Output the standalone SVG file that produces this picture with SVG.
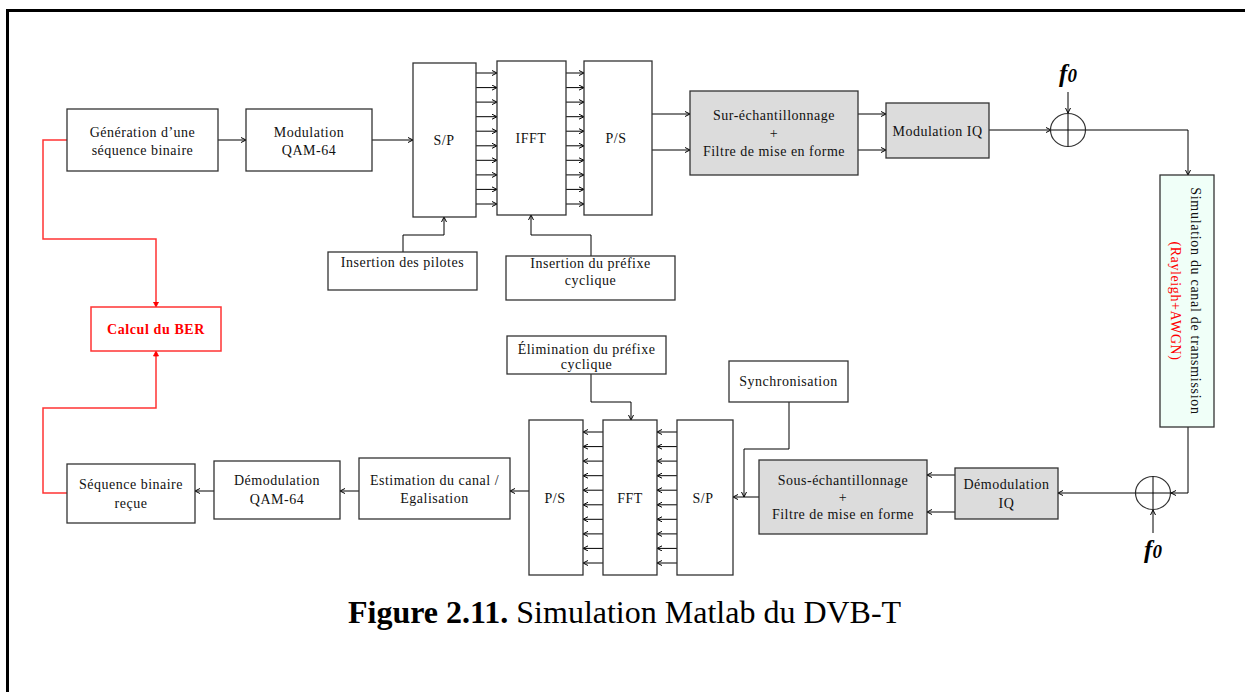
<svg xmlns="http://www.w3.org/2000/svg" width="1245" height="692" viewBox="0 0 1245 692">
<defs>
<marker id="ah" viewBox="0 0 6 6" refX="5.5" refY="3" markerWidth="6" markerHeight="6" markerUnits="userSpaceOnUse" orient="auto">
<path d="M0.5,0.5 L5.5,3 L0.5,5.5" fill="none" stroke="#000" stroke-width="1"/>
</marker>
<marker id="ahr" viewBox="0 0 6 6" refX="5.5" refY="3" markerWidth="6" markerHeight="6" markerUnits="userSpaceOnUse" orient="auto">
<path d="M0.5,0.5 L5.5,3 L0.5,5.5 Z" fill="#f00" stroke="#f00" stroke-width="0.8"/>
</marker>
</defs>
<style>
.box{fill:#fff;stroke:#333;stroke-width:1.3}
.gray{fill:#dcdcdc;stroke:#333;stroke-width:1.3}
.chan{fill:#f0fff8;stroke:#333;stroke-width:1.3}
.red{fill:#fff;stroke:#f33;stroke-width:1.5}
.t{font-family:"Liberation Serif","Times New Roman",serif;font-size:14px;fill:#111;text-anchor:middle;letter-spacing:0.5px}
.c{fill:none;stroke:#000;stroke-width:1;marker-end:url(#ah)}
.cn{fill:none;stroke:#000;stroke-width:1}
.cr{fill:none;stroke:#f33;stroke-width:1.5;marker-end:url(#ahr)}
.f0{font-family:"Liberation Serif","Times New Roman",serif;font-size:25px;font-weight:bold;font-style:italic;fill:#000;text-anchor:middle}
</style>
<rect width="1245" height="692" fill="#fff"/>
<g id="border" stroke="#000" stroke-width="3" fill="none">
<line x1="6" y1="10.5" x2="1245" y2="10.5"/>
<line x1="7.5" y1="9" x2="7.5" y2="692"/>
</g>

<g id="connectors">
<line class="c" x1="218" y1="140" x2="246" y2="140"/>
<line class="c" x1="372" y1="140" x2="413" y2="140"/>
<g>
<line class="c" x1="476" y1="73" x2="497" y2="73"/>
<line class="c" x1="476" y1="87.6" x2="497" y2="87.6"/>
<line class="c" x1="476" y1="102.1" x2="497" y2="102.1"/>
<line class="c" x1="476" y1="116.7" x2="497" y2="116.7"/>
<line class="c" x1="476" y1="131.2" x2="497" y2="131.2"/>
<line class="c" x1="476" y1="145.8" x2="497" y2="145.8"/>
<line class="c" x1="476" y1="160.3" x2="497" y2="160.3"/>
<line class="c" x1="476" y1="174.9" x2="497" y2="174.9"/>
<line class="c" x1="476" y1="189.4" x2="497" y2="189.4"/>
<line class="c" x1="476" y1="204" x2="497" y2="204"/>
</g>
<g>
<line class="c" x1="566" y1="73" x2="584" y2="73"/>
<line class="c" x1="566" y1="87.6" x2="584" y2="87.6"/>
<line class="c" x1="566" y1="102.1" x2="584" y2="102.1"/>
<line class="c" x1="566" y1="116.7" x2="584" y2="116.7"/>
<line class="c" x1="566" y1="131.2" x2="584" y2="131.2"/>
<line class="c" x1="566" y1="145.8" x2="584" y2="145.8"/>
<line class="c" x1="566" y1="160.3" x2="584" y2="160.3"/>
<line class="c" x1="566" y1="174.9" x2="584" y2="174.9"/>
<line class="c" x1="566" y1="189.4" x2="584" y2="189.4"/>
<line class="c" x1="566" y1="204" x2="584" y2="204"/>
</g>
<polyline class="c" points="403,252 403,235 444,235 444,217"/>
<polyline class="c" points="591,256 591,235 531,235 531,215"/>
<line class="c" x1="652" y1="114" x2="690" y2="114"/>
<line class="c" x1="652" y1="150" x2="690" y2="150"/>
<line class="c" x1="858" y1="114" x2="886" y2="114"/>
<line class="c" x1="858" y1="150" x2="886" y2="150"/>
<line class="c" x1="989" y1="130" x2="1051" y2="130"/>
<line class="c" x1="1068" y1="92" x2="1068" y2="113"/>
<polyline class="c" points="1085,130 1188,130 1188,175"/>
<polyline class="c" points="1188,427 1188,493 1171,493"/>
<line class="c" x1="1153" y1="533" x2="1153" y2="510"/>
<line class="c" x1="1136" y1="493" x2="1058" y2="493"/>
<line class="c" x1="955" y1="475" x2="927" y2="475"/>
<line class="c" x1="955" y1="512" x2="927" y2="512"/>
<line class="c" x1="759" y1="497" x2="733" y2="497"/>
<polyline class="c" points="789,402 789,449 744,449 744,497"/>
<g>
<line class="c" x1="677" y1="432" x2="657" y2="432"/>
<line class="c" x1="677" y1="446.6" x2="657" y2="446.6"/>
<line class="c" x1="677" y1="461.1" x2="657" y2="461.1"/>
<line class="c" x1="677" y1="475.7" x2="657" y2="475.7"/>
<line class="c" x1="677" y1="490.2" x2="657" y2="490.2"/>
<line class="c" x1="677" y1="504.8" x2="657" y2="504.8"/>
<line class="c" x1="677" y1="519.3" x2="657" y2="519.3"/>
<line class="c" x1="677" y1="533.9" x2="657" y2="533.9"/>
<line class="c" x1="677" y1="548.4" x2="657" y2="548.4"/>
<line class="c" x1="677" y1="563" x2="657" y2="563"/>
</g>
<g>
<line class="c" x1="603" y1="432" x2="583" y2="432"/>
<line class="c" x1="603" y1="446.6" x2="583" y2="446.6"/>
<line class="c" x1="603" y1="461.1" x2="583" y2="461.1"/>
<line class="c" x1="603" y1="475.7" x2="583" y2="475.7"/>
<line class="c" x1="603" y1="490.2" x2="583" y2="490.2"/>
<line class="c" x1="603" y1="504.8" x2="583" y2="504.8"/>
<line class="c" x1="603" y1="519.3" x2="583" y2="519.3"/>
<line class="c" x1="603" y1="533.9" x2="583" y2="533.9"/>
<line class="c" x1="603" y1="548.4" x2="583" y2="548.4"/>
<line class="c" x1="603" y1="563" x2="583" y2="563"/>
</g>
<polyline class="c" points="591,374 591,402 631,402 631,420"/>
<line class="c" x1="529" y1="491" x2="510" y2="491"/>
<line class="c" x1="359" y1="491" x2="340" y2="491"/>
<line class="c" x1="214" y1="491" x2="195" y2="491"/>
<polyline class="cr" points="67,140 43,140 43,239 156,239 156,307"/>
<polyline class="cr" points="67,493 43,493 43,408 156,408 156,351"/>
</g>

<g id="gen"><rect class="box" x="67" y="109" width="151" height="62"/>
<text class="t" x="142.5" y="137">Génération d’une</text><text class="t" x="142.5" y="155">séquence binaire</text></g>
<g id="qam"><rect class="box" x="246" y="109" width="126" height="62"/>
<text class="t" x="309" y="137">Modulation</text><text class="t" x="309" y="155">QAM-64</text></g>
<g id="sp1"><rect class="box" x="413" y="63" width="63" height="154"/><text class="t" x="444" y="145">S/P</text></g>
<g id="ifft"><rect class="box" x="497" y="61" width="69" height="154"/><text class="t" x="531" y="143">IFFT</text></g>
<g id="ps1"><rect class="box" x="584" y="61" width="68" height="154"/><text class="t" x="616" y="143">P/S</text></g>
<g id="pilotes"><rect class="box" x="328" y="252" width="149" height="38"/><text class="t" x="402.5" y="267">Insertion des pilotes</text></g>
<g id="prefixe"><rect class="box" x="506" y="256" width="169" height="44"/>
<text class="t" x="590.5" y="268">Insertion du préfixe</text><text class="t" x="590.5" y="285">cyclique</text></g>
<g id="surech"><rect class="gray" x="690" y="91" width="168" height="84"/>
<text class="t" x="774" y="120">Sur-échantillonnage</text><text class="t" x="774" y="138">+</text><text class="t" x="774" y="156">Filtre de mise en forme</text></g>
<g id="modiq"><rect class="gray" x="886" y="103" width="103" height="55"/><text class="t" x="937.5" y="136">Modulation IQ</text></g>
<g id="mix1"><ellipse cx="1068" cy="130" rx="17.5" ry="16.5" fill="none" stroke="#333" stroke-width="1.2"/>
<line class="cn" x1="1068" y1="113.5" x2="1068" y2="146.5"/><line class="cn" x1="1050.5" y1="130" x2="1085.5" y2="130"/>
<text class="f0" x="1068" y="82">f<tspan font-size="19">0</tspan></text></g>
<g id="canal"><rect class="chan" x="1160" y="175" width="54" height="252"/>
<text class="t" transform="translate(1191,301) rotate(90)" x="0" y="0" style="letter-spacing:0.7px">Simulation du canal de transmission</text>
<text class="t" transform="translate(1171,301) rotate(90)" x="0" y="0" style="fill:#f00;letter-spacing:0.6px">(Rayleigh+AWGN)</text></g>
<g id="mix2"><ellipse cx="1153" cy="493" rx="17.5" ry="16.5" fill="none" stroke="#333" stroke-width="1.2"/>
<line class="cn" x1="1153" y1="476.5" x2="1153" y2="509.5"/><line class="cn" x1="1135.5" y1="493" x2="1170.5" y2="493"/>
<text class="f0" x="1153" y="558">f<tspan font-size="19">0</tspan></text></g>
<g id="demodiq"><rect class="gray" x="955" y="468" width="103" height="51"/>
<text class="t" x="1006.5" y="489">Démodulation</text><text class="t" x="1006.5" y="508">IQ</text></g>
<g id="sousech"><rect class="gray" x="759" y="460" width="168" height="74"/>
<text class="t" x="843" y="485">Sous-échantillonnage</text><text class="t" x="843" y="502">+</text><text class="t" x="843" y="519">Filtre de mise en forme</text></g>
<g id="sync"><rect class="box" x="729" y="361" width="119" height="41"/><text class="t" x="788.5" y="386">Synchronisation</text></g>
<g id="elim"><rect class="box" x="507" y="336" width="159" height="38"/>
<text class="t" x="586.5" y="354">Élimination du préfixe</text><text class="t" x="586.5" y="369">cyclique</text></g>
<g id="sp2"><rect class="box" x="677" y="420" width="56" height="155"/><text class="t" x="703" y="503">S/P</text></g>
<g id="fft"><rect class="box" x="603" y="420" width="54" height="155"/><text class="t" x="630" y="503">FFT</text></g>
<g id="ps2"><rect class="box" x="529" y="420" width="54" height="155"/><text class="t" x="555" y="503">P/S</text></g>
<g id="estim"><rect class="box" x="359" y="458" width="151" height="61"/>
<text class="t" x="434.5" y="485">Estimation du canal /</text><text class="t" x="434.5" y="503">Egalisation</text></g>
<g id="demodqam"><rect class="box" x="214" y="461" width="126" height="58"/>
<text class="t" x="277" y="485">Démodulation</text><text class="t" x="277" y="504">QAM-64</text></g>
<g id="seq"><rect class="box" x="67" y="464" width="128" height="59"/>
<text class="t" x="131" y="489">Séquence binaire</text><text class="t" x="131" y="508">reçue</text></g>
<g id="ber"><rect class="red" x="91" y="307" width="130" height="44"/>
<text class="t" x="156" y="334" style="fill:#f00;font-weight:bold;letter-spacing:0.6px">Calcul du BER</text></g>

<g id="caption"><text x="348" y="623" font-family="'Liberation Serif','Times New Roman',serif" font-size="32" fill="#000"><tspan font-weight="bold">Figure 2.11.</tspan> Simulation Matlab du DVB-T</text></g>
</svg>
